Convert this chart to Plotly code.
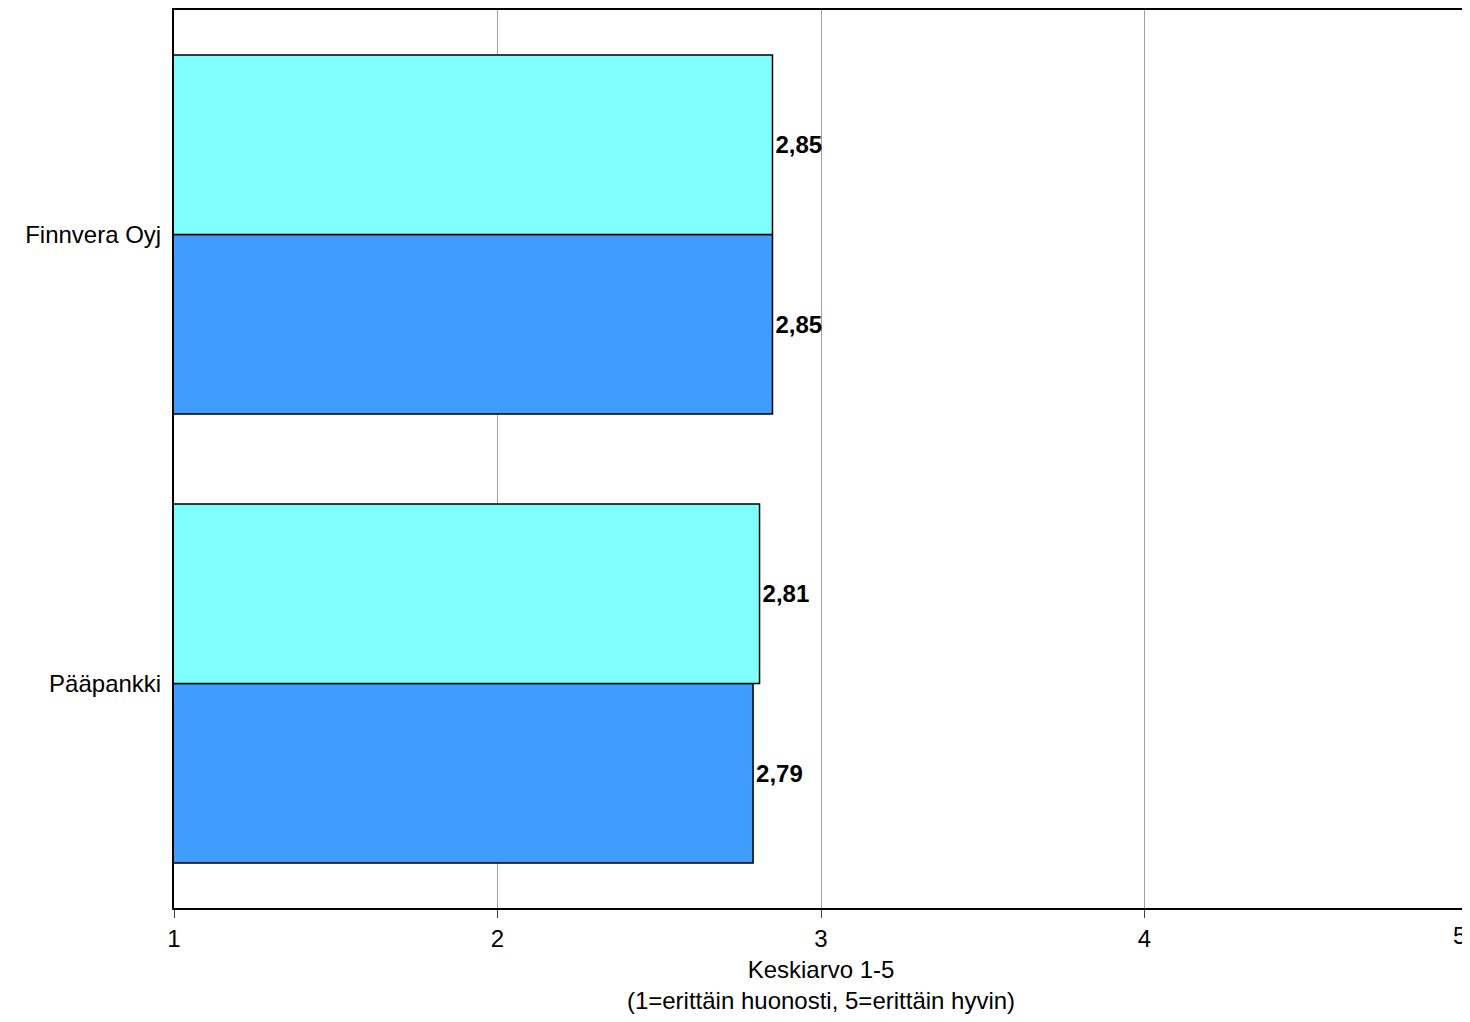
import plotly.graph_objects as go

categories = ["Pääpankki", "Finnvera Oyj"]
series_a = [2.79, 2.85]   # dark blue
series_b = [2.81, 2.85]   # cyan
tick_vals = [1, 2, 3, 4]

def fmt(v):
    return f"<b>{v:.2f}</b>".replace(".", ",")

font = "Liberation Sans, Arial"
fig = go.Figure()
for vals, col in [(series_a, "#409CFF"), (series_b, "#80FFFF")]:
    fig.add_trace(go.Bar(
        y=categories, x=vals, orientation="h",
        marker=dict(color=col, line=dict(color="black", width=1.5)),
        text=[fmt(v) for v in vals], textposition="outside",
        textfont=dict(family=font, size=24, color="black"),
        cliponaxis=False,
    ))

fig.update_layout(
    width=1470, height=1022,
    barmode="group", bargap=0.2, bargroupgap=0,
    showlegend=False,
    plot_bgcolor="white", paper_bgcolor="white",
    margin=dict(l=166, r=10, t=0, b=122),
    font=dict(family=font, size=24, color="black"),
    xaxis=dict(
        range=[1, 5], tickvals=tick_vals, ticks="outside", ticklen=8,
        showgrid=True, gridcolor="#A0A0A0", gridwidth=1,
        showline=True, linecolor="black", linewidth=2, mirror=True,
        title=dict(text="Keskiarvo 1-5<br>(1=erittäin huonosti, 5=erittäin hyvin)",
                   font=dict(size=24), standoff=10),
        tickfont=dict(size=24),
    ),
    yaxis=dict(
        showline=True, linecolor="black", linewidth=2, mirror=True,
        ticks="outside", ticklen=6, tickcolor="white", tickfont=dict(size=24),
    ),
)
fig.add_annotation(x=5, y=0, xref="x", yref="paper", yshift=-12, yanchor="top",
                   xanchor="right", text="5", showarrow=False, font=dict(size=24))

fig.write_html("out.html")
